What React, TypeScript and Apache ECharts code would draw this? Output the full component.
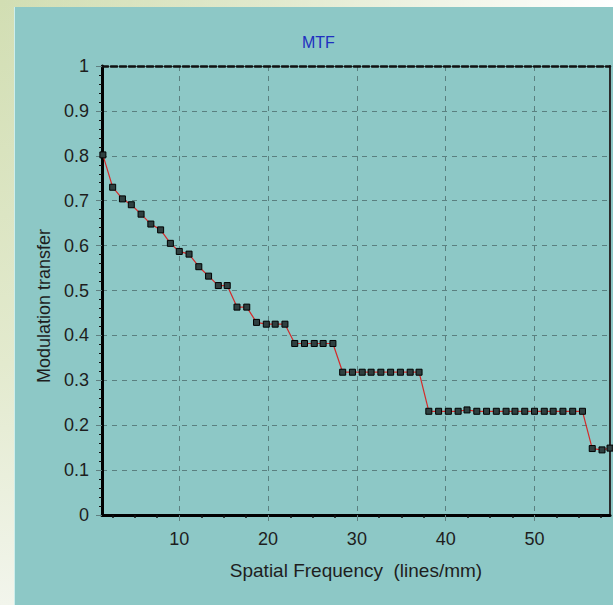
import React, { useEffect, useRef } from "react";
import * as echarts from "echarts";

// Spatial frequency (lines/mm) of each sample
const frequency = [
  1.4, 2.5, 3.6, 4.6, 5.7, 6.8, 7.9, 9.0, 10.0, 11.1,
  12.2, 13.3, 14.4, 15.4, 16.5, 17.6, 18.7, 19.8, 20.8, 21.9,
  23.0, 24.1, 25.2, 26.2, 27.3, 28.4, 29.5, 30.6, 31.6, 32.7,
  33.8, 34.9, 36.0, 37.0, 38.1, 39.2, 40.3, 41.4, 42.4, 43.5,
  44.6, 45.7, 46.8, 47.8, 48.9, 50.0, 51.1, 52.1, 53.2, 54.3,
  55.4, 56.5, 57.6, 58.5,
];

// Modulation transfer at each frequency
const mtf = [
  0.802, 0.730, 0.704, 0.691, 0.670, 0.648, 0.635, 0.605, 0.587, 0.581,
  0.553, 0.532, 0.511, 0.511, 0.463, 0.463, 0.429, 0.425, 0.425, 0.425,
  0.382, 0.382, 0.382, 0.382, 0.382, 0.318, 0.318, 0.318, 0.318, 0.318,
  0.318, 0.318, 0.318, 0.318, 0.231, 0.231, 0.231, 0.231, 0.234, 0.231,
  0.231, 0.231, 0.231, 0.231, 0.231, 0.231, 0.231, 0.231, 0.231, 0.231,
  0.231, 0.148, 0.145, 0.149,
];

const xTickValues = [10, 20, 30, 40, 50];
const xMinorTickValues = [2.5, 5, 7.5, 12.5, 15, 17.5, 22.5, 25, 27.5, 32.5, 35, 37.5, 42.5, 45, 47.5, 52.5, 55, 57.5];
const xMin = 1.3;
const xMax = 58.5;
const yMin = 0;
const yMax = 1;
const yStep = 0.1;

const title = "MTF";
const xName = "Spatial Frequency  (lines/mm)";
const yName = "Modulation transfer";

export default function App() {
  const ref = useRef<HTMLDivElement>(null);

  useEffect(() => {
    const chart = echarts.init(ref.current!, null, { renderer: "svg" });
    const font = "'Liberation Sans', Arial, sans-serif";
    const textColor = "#1e1e1e";
    const gridLine = { color: "#5a8080", type: [5, 5] as number[], width: 1 };
    chart.setOption({
      animation: false,
      title: {
        text: title,
        left: 302,
        top: 34,
        padding: 0,
        textStyle: { color: "#1f2fc0", fontSize: 16, fontWeight: "normal", fontFamily: font },
      },
      grid: { left: 102, right: 3, top: 66, bottom: 90, containLabel: false },
      xAxis: [
        {
          type: "value",
          min: xMin,
          max: xMax,
          position: "bottom",
          name: xName,
          nameLocation: "middle",
          nameGap: 46,
          nameTextStyle: { fontSize: 19, color: textColor, fontFamily: font },
          axisLine: { show: true, onZero: false, lineStyle: { color: "#000", width: 3 } },
          axisTick: { show: true, customValues: xTickValues, length: 6, lineStyle: { color: "#5f8080", width: 1 } },
          axisLabel: { customValues: xTickValues, margin: 15, fontSize: 18, color: textColor, fontFamily: font },
          splitLine: { show: true, lineStyle: gridLine },
        },
        {
          type: "value",
          min: xMin,
          max: xMax,
          position: "bottom",
          axisLine: { show: false },
          axisTick: { show: true, customValues: xMinorTickValues, length: 3, lineStyle: { color: "#111", width: 1.5 } },
          axisLabel: { show: false },
          splitLine: { show: false },
        },
        {
          type: "value",
          min: xMin,
          max: xMax,
          position: "top",
          axisLine: { show: true, onZero: false, lineStyle: { color: "#111", width: 2.5, type: [6, 3] } },
          axisTick: { show: false },
          axisLabel: { show: false },
          splitLine: { show: false },
        },
      ],
      yAxis: [
        {
          type: "value",
          min: yMin,
          max: yMax,
          interval: yStep,
          position: "left",
          name: yName,
          nameLocation: "middle",
          nameGap: 49,
          nameTextStyle: { fontSize: 18, color: textColor, fontFamily: font, padding: [0, 31, 0, 0] },
          axisLine: { show: true, onZero: false, lineStyle: { color: "#000", width: 3 } },
          axisTick: { show: true, length: 6, lineStyle: { color: "#5f8080", width: 1 } },
          minorTick: { show: true, splitNumber: 5, length: 3, lineStyle: { color: "#111", width: 1 } },
          axisLabel: { margin: 13, fontSize: 18, color: textColor, fontFamily: font },
          splitLine: { show: true, lineStyle: gridLine },
        },
        {
          type: "value",
          min: yMin,
          max: yMax,
          position: "right",
          axisLine: { show: true, onZero: false, lineStyle: { color: "#2a2a2a", width: 2 } },
          axisTick: { show: false },
          axisLabel: { show: false },
          splitLine: { show: false },
        },
      ],
      series: [
        {
          type: "line",
          xAxisIndex: 0,
          yAxisIndex: 0,
          data: frequency.map((f, i) => [f, mtf[i]]),
          symbol: "rect",
          symbolSize: 6,
          showAllSymbol: true,
          lineStyle: { color: "#d42a2a", width: 1.2 },
          itemStyle: { color: "#2f4040", borderColor: "#000", borderWidth: 1 },
          clip: true,
        },
      ],
    });
    return () => chart.dispose();
  }, []);

  return (
    <div
      style={{
        position: "absolute",
        left: 0,
        top: 0,
        width: 613,
        height: 605,
        background:
          "linear-gradient(to right, rgba(255,255,255,0) 0%, rgba(255,255,255,0.35) 45%, rgba(255,255,255,1) 100%), linear-gradient(to bottom, #d2deb3 0%, #e3eace 60%, #f2f5ec 100%)",
        overflow: "hidden",
      }}
    >
      <div
        style={{
          position: "absolute",
          left: 14,
          top: 7,
          width: 599,
          height: 598,
          background: "#8dc8c6",
          borderLeft: "1px solid #cdeeec",
          boxSizing: "border-box",
        }}
      />
      <div ref={ref} style={{ position: "absolute", left: 0, top: 0, width: 613, height: 605 }} />
    </div>
  );
}
